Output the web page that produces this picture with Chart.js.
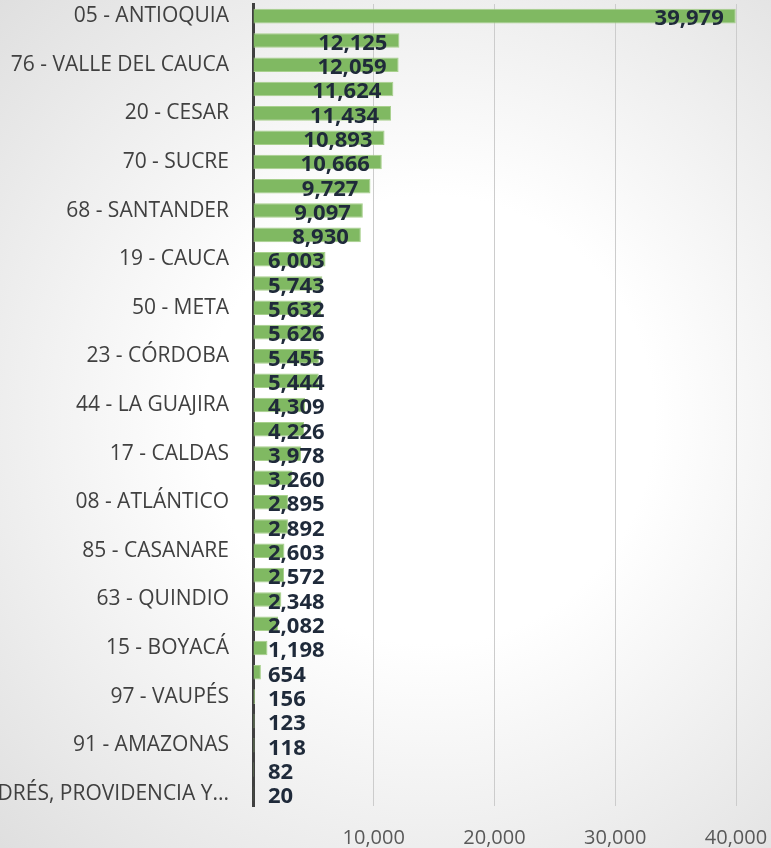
<!DOCTYPE html>
<html lang="es">
<head>
    <meta charset="UTF-8">
    <title>Casos por departamento</title>
    <script src="https://cdn.jsdelivr.net/npm/chart.js"></script>
    <style>
        html, body { margin: 0; padding: 0; background: #ffffff; }
        #chart { display: block; }
    </style>
</head>
<body>
    <canvas id="chart" width="771" height="848"></canvas>

    <script>
        // categories, top to bottom
        const departamentos = [
            '05 - ANTIOQUIA', '11 - BOGOTÁ, D.C.', '76 - VALLE DEL CAUCA', '13 - BOLÍVAR',
            '20 - CESAR', '47 - MAGDALENA', '70 - SUCRE', '54 - NORTE DE SANTANDER',
            '68 - SANTANDER', '41 - HUILA', '19 - CAUCA', '73 - TOLIMA',
            '50 - META', '25 - CUNDINAMARCA', '23 - CÓRDOBA', '52 - NARIÑO',
            '44 - LA GUAJIRA', '86 - PUTUMAYO', '17 - CALDAS', '18 - CAQUETÁ',
            '08 - ATLÁNTICO', '81 - ARAUCA', '85 - CASANARE', '66 - RISARALDA',
            '63 - QUINDIO', '27 - CHOCÓ', '15 - BOYACÁ', '95 - GUAVIARE',
            '97 - VAUPÉS', '99 - VICHADA', '91 - AMAZONAS', '94 - GUAINÍA',
            '88 - SAN ANDRÉS, PROVIDENCIA Y SANTA CATALINA'
        ];

        const casos = [
            39979, 12125, 12059, 11624, 11434, 10893, 10666, 9727,
            9097, 8930, 6003, 5743, 5632, 5626, 5455, 5444,
            4309, 4226, 3978, 3260, 2895, 2892, 2603, 2572,
            2348, 2082, 1198, 654, 156, 123, 118, 82, 20
        ];

        const xTicks = [10000, 20000, 30000, 40000];

        const fmt = new Intl.NumberFormat('en-US');

        // soft radial background like the original slide
        const backgroundPlugin = {
            id: 'bg',
            beforeDraw(chart) {
                const ctx = chart.ctx;
                const g = ctx.createRadialGradient(430, 420, 0, 430, 420, 640);
                g.addColorStop(0, '#ffffff');
                g.addColorStop(0.35, '#ffffff');
                g.addColorStop(1, '#dcdcdc');
                ctx.save();
                ctx.fillStyle = g;
                ctx.fillRect(0, 0, chart.width, chart.height);
                ctx.restore();
            }
        };

        // value labels near the end of each bar
        const valueLabels = {
            id: 'valueLabels',
            afterDatasetsDraw(chart) {
                const ctx = chart.ctx;
                const meta = chart.getDatasetMeta(0);
                const left = chart.chartArea.left;
                ctx.save();
                ctx.font = 'bold 22px "Open Sans"';
                ctx.fillStyle = '#1f2a3a';
                ctx.textAlign = 'right';
                ctx.textBaseline = 'middle';
                meta.data.forEach((bar, i) => {
                    const txt = fmt.format(casos[i]);
                    const w = ctx.measureText(txt).width;
                    const x = Math.max(bar.x - 12, left + 15 + w);
                    ctx.fillText(txt, x, bar.y + 3);
                });
                ctx.restore();
            }
        };

        new Chart(document.getElementById('chart').getContext('2d'), {
            type: 'bar',
            data: {
                labels: departamentos,
                datasets: [{
                    data: casos,
                    backgroundColor: '#80b962',
                    borderColor: '#a8d08d',
                    borderWidth: 1,
                    barPercentage: 0.6,
                    categoryPercentage: 1
                }]
            },
            options: {
                indexAxis: 'y',
                responsive: false,
                animation: false,
                layout: { padding: { top: 4, right: 35, left: 0, bottom: 0 } },
                plugins: {
                    legend: { display: false },
                    tooltip: { enabled: false }
                },
                scales: {
                    x: {
                        min: 0,
                        max: 40000,
                        afterBuildTicks(scale) {
                            scale.ticks = [0].concat(xTicks).map(v => ({ value: v }));
                        },
                        afterFit(scale) {
                            scale.height = 42;
                            scale.paddingLeft = 0;
                            scale.paddingRight = 0;
                        },
                        border: { display: false },
                        grid: { color: '#cccccc', lineWidth: 1, drawTicks: false },
                        ticks: {
                            padding: 20,
                            color: '#595959',
                            font: { family: 'Open Sans', size: 20 },
                            callback: v => (v === 0 ? '' : fmt.format(v))
                        }
                    },
                    y: {
                        afterFit(scale) {
                            scale.width = 253;
                            scale.paddingTop = 0;
                            scale.paddingBottom = 0;
                        },
                        border: { display: true, color: '#404040', width: 3 },
                        grid: { display: false, drawTicks: false },
                        ticks: {
                            autoSkip: false,
                            padding: 24,
                            color: '#404040',
                            font: { family: 'Open Sans', size: 21 },
                            callback: function (v, i) {
                                if (i % 2 !== 0) return '';
                                const s = departamentos[i];
                                return s.length > 30 ? s.slice(0, 30) + '...' : s;
                            }
                        }
                    }
                }
            },
            plugins: [backgroundPlugin, valueLabels]
        });
    </script>
</body>
</html>
